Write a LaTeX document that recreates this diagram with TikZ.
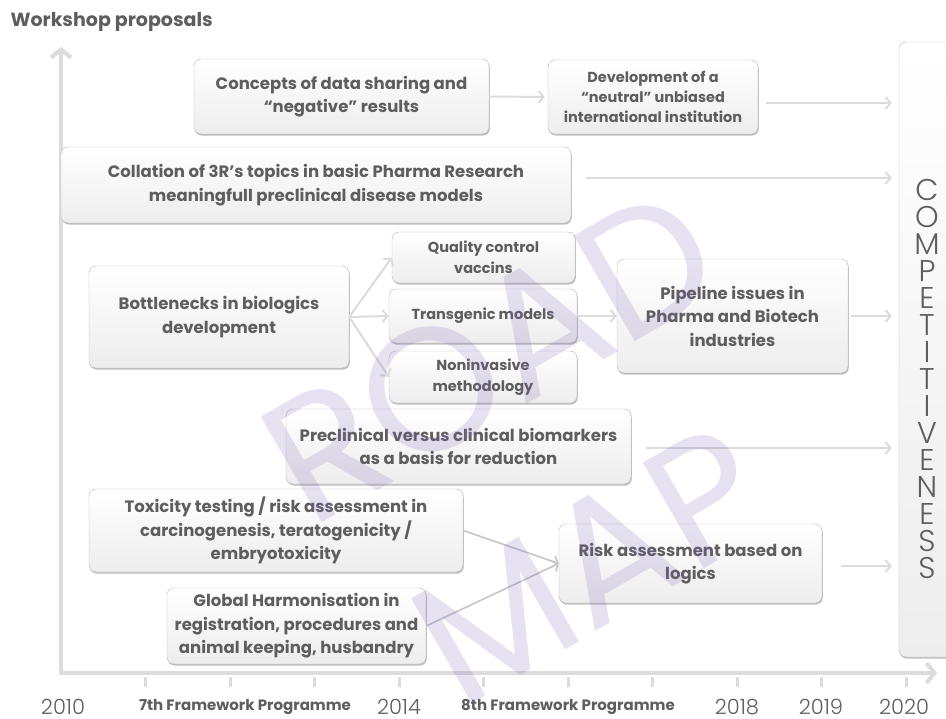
\documentclass[tikz,border=0pt]{standalone}
\usepackage{fontspec}
\setmainfont{Poppins}
\newfontfamily\lightfont{Poppins Light}
\usetikzlibrary{arrows.meta,shadows}
\definecolor{txtgray}{HTML}{5E5E5E}
\definecolor{linegray}{HTML}{DCDCDC}
\definecolor{darkline}{HTML}{C6C6C6}
\definecolor{boxline}{HTML}{B8B8B8}
\definecolor{wmviolet}{HTML}{7B5DB5}

\begin{document}
\begin{tikzpicture}[x=1pt, y=-1pt, every node/.style={text=txtgray},
  box/.style={draw=boxline, rounded corners=7pt, top color=white, bottom color=gray!14, drop shadow={shadow xshift=0.8pt, shadow yshift=-1.6pt, opacity=0.5, fill=gray}, align=center, inner sep=2pt, font=\bfseries\fontsize{16.5}{23.5}\selectfont},
  smallbox/.style={box, font=\bfseries\fontsize{14.5}{21}\selectfont},
  arr/.style={draw=linegray, line width=2pt, -{Straight Barb[length=5pt, width=12pt]}},
  darr/.style={arr, draw=darkline, line width=1.6pt},
  axis/.style={draw=linegray, line width=4pt, {Straight Barb[length=8pt, width=20pt]}-{Straight Barb[length=8pt, width=20pt]}},
  tick/.style={draw=linegray, line width=3pt},
  yearlbl/.style={font=\lightfont\fontsize{21}{21}\selectfont, inner sep=0pt},
  fplbl/.style={font=\bfseries\fontsize{15}{15}\selectfont, inner sep=0pt},
  wm/.style={font=\fontsize{175}{175}\selectfont, text=wmviolet, text opacity=0.18, rotate=30}]
  \useasboundingbox (0,0) rectangle (946,719);
  \fill[white] (0,0) rectangle (946,719);
  \clip (0,0) rectangle (946,719);
  \node[anchor=west, font=\bfseries\fontsize{19}{19}\selectfont] (title) at (7,22) {Workshop proposals};
  \coordinate (ytop) at (61,47); \coordinate (orig) at (61,673); \coordinate (xend) at (937,673);
  \draw[axis] (ytop) -- (orig) -- (xend);
  \foreach \k in {1,...,10} {\draw[tick] ({61+84.5*\k},677) -- ++(0,10);}
  \node[yearlbl] (y2010) at (63,707) {2010};
  \node[fplbl] (fp7) at (245,707) {7th Framework Programme};
  \node[yearlbl] (y2014) at (399,707) {2014};
  \node[fplbl] (fp8) at (568,707) {8th Framework Programme};
  \node[yearlbl] (y2018) at (737,707) {2018};
  \node[yearlbl] (y2019) at (821,707) {2019};
  \node[yearlbl] (y2020) at (904,707) {2020};
  \node[box, minimum width=62pt, minimum height=615pt] (comp) at (930,349.5) {};
  \node[align=center, font=\lightfont\fontsize{30}{27}\selectfont] (compword) at (927,379) {C\\O\\M\\P\\E\\T\\I\\T\\I\\V\\E\\N\\E\\S\\S};
  \node[box, minimum width=295pt, minimum height=75pt] (conc) at (341.5,96.5) {Concepts of data sharing and\\“negative” results};
  \node[box, minimum width=210pt, minimum height=74pt, font=\bfseries\fontsize{14.5}{20}\selectfont] (dev) at (653,97) {Development of a\\“neutral” unbiased\\international institution};
  \node[box, minimum width=510pt, minimum height=76pt] (coll) at (316,185) {Collation of 3R’s topics in basic Pharma Research\\meaningfull preclinical disease models};
  \node[box, minimum width=260pt, minimum height=102pt] (bott) at (219,317) {Bottlenecks in biologics\\development};
  \node[smallbox, minimum width=183pt, minimum height=51pt] (qual) at (483.5,257.5) {Quality control\\vaccins};
  \node[smallbox, minimum width=188pt, minimum height=54pt] (trans) at (483,316) {Transgenic models};
  \node[smallbox, minimum width=188pt, minimum height=52pt] (noni) at (483,377) {Noninvasive\\methodology};
  \node[box, minimum width=231pt, minimum height=114pt] (pipe) at (732.5,316) {Pipeline issues in\\Pharma and Biotech\\industries};
  \node[box, minimum width=345pt, minimum height=75pt] (precl) at (458.5,446.5) {Preclinical versus clinical biomarkers\\as a basis for reduction};
  \node[box, minimum width=374pt, minimum height=83pt] (tox) at (276,530.5) {Toxicity testing / risk assessment in\\carcinogenesis, teratogenicity /\\embryotoxicity};
  \node[box, minimum width=259pt, minimum height=76pt] (glob) at (296.5,626) {Global Harmonisation in\\registration, procedures and\\animal keeping, husbandry};
  \node[box, minimum width=263pt, minimum height=79pt] (risk) at (690.5,563.5) {Risk assessment based on\\logics};
  \draw[arr, shorten >=3pt] (conc.east) -- (dev.west);
  \draw[arr, shorten <=8pt, shorten >=7pt] ([yshift=-6pt]dev.east) -- ([yshift=-6pt]dev.east -| comp.west);
  \draw[arr, shorten <=15pt, shorten >=7pt] ([yshift=7pt]coll.east) -- ([yshift=7pt]coll.east -| comp.west);
  \foreach \dest in {qual,trans,noni} {\draw[arr] (bott.east) -- (\dest.west);}
  \draw[arr] (trans.east) -- (pipe.west);
  \draw[arr, shorten <=3pt, shorten >=7pt] (pipe.east) -- (pipe.east -| comp.west);
  \draw[arr, shorten <=15pt, shorten >=7pt] ([yshift=-1.5pt]precl.east) -- ([yshift=-1.5pt]precl.east -| comp.west);
  \draw[darr] (tox.east) -- (risk.west);
  \draw[darr] (glob.east) -- (risk.west);
  \draw[arr, shorten <=19pt, shorten >=7pt] ([yshift=-2.5pt]risk.east) -- ([yshift=-2.5pt]risk.east -| comp.west);
  \node[wm] (road) at (490,355) {ROAD};
  \node[wm] (map) at (590,565) {MAP};
\end{tikzpicture}
\end{document}
